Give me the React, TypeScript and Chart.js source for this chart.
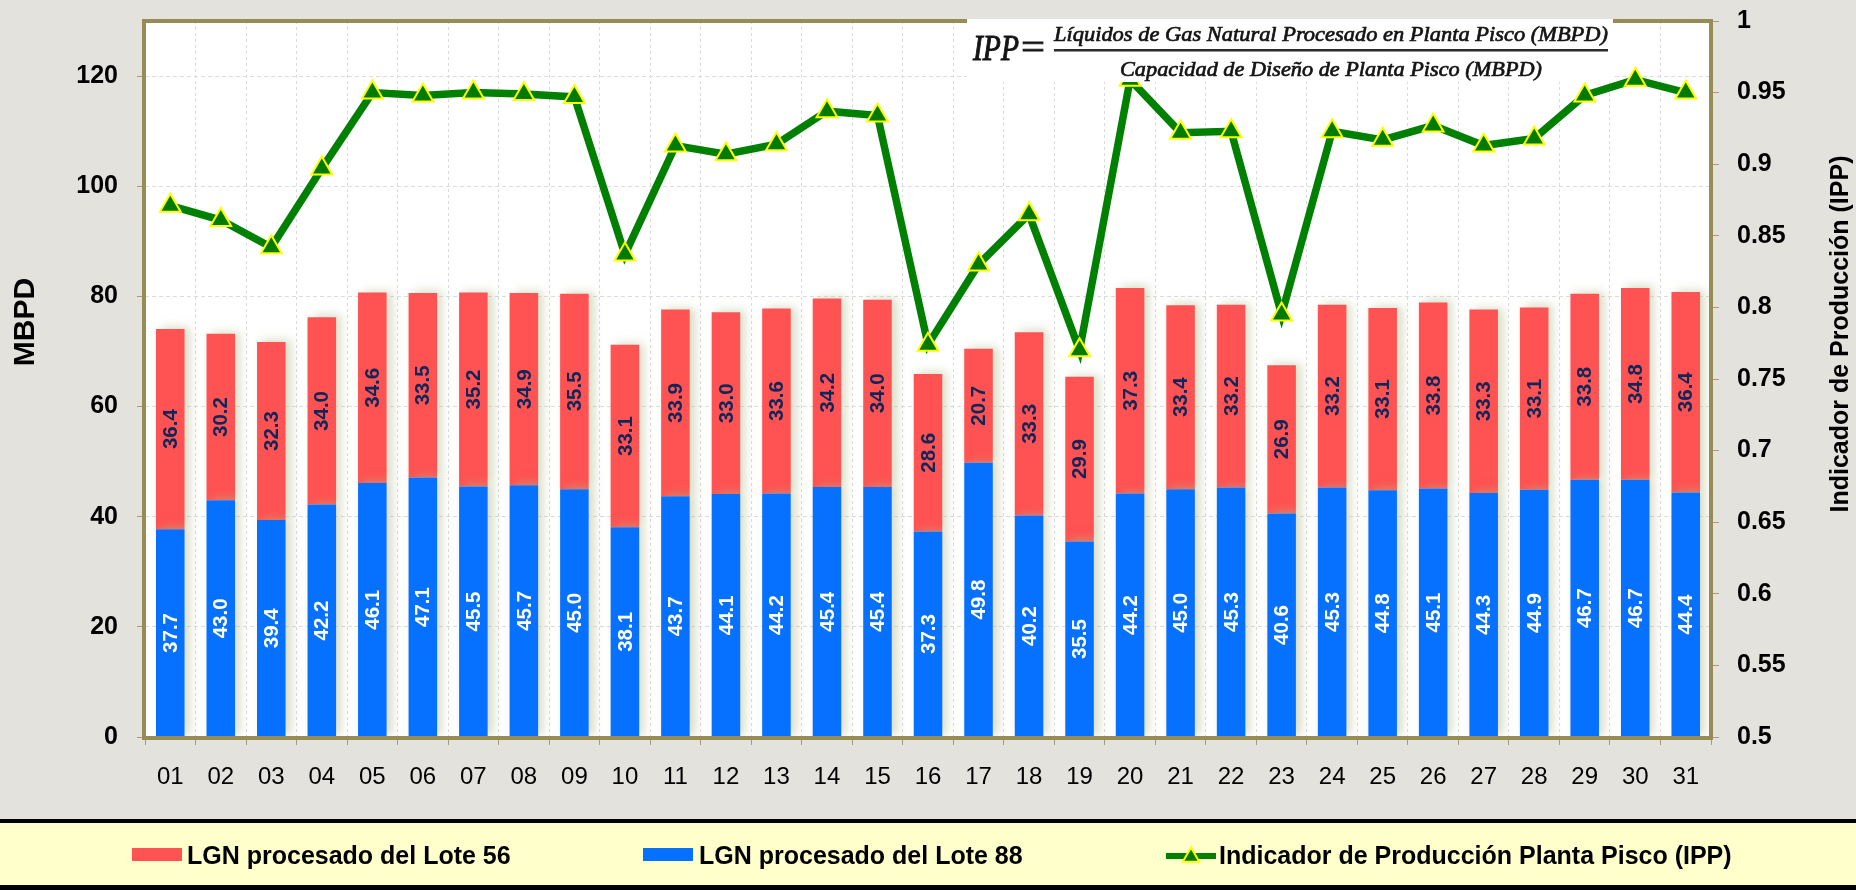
import React, { useEffect, useRef } from 'react';
import { Chart, registerables } from 'chart.js';

Chart.register(...registerables);

const days = ['01', '02', '03', '04', '05', '06', '07', '08', '09', '10', '11', '12', '13', '14', '15', '16', '17', '18', '19', '20', '21', '22', '23', '24', '25', '26', '27', '28', '29', '30', '31'];
const lote56 = [36.4, 30.2, 32.3, 34.0, 34.6, 33.5, 35.2, 34.9, 35.5, 33.1, 33.9, 33.0, 33.6, 34.2, 34.0, 28.6, 20.7, 33.3, 29.9, 37.3, 33.4, 33.2, 26.9, 33.2, 33.1, 33.8, 33.3, 33.1, 33.8, 34.8, 36.4];
const lote88 = [37.7, 43.0, 39.4, 42.2, 46.1, 47.1, 45.5, 45.7, 45.0, 38.1, 43.7, 44.1, 44.2, 45.4, 45.4, 37.3, 49.8, 40.2, 35.5, 44.2, 45.0, 45.3, 40.6, 45.3, 44.8, 45.1, 44.3, 44.9, 46.7, 46.7, 44.4];
const ipp = [0.871, 0.861, 0.842, 0.897, 0.950, 0.948, 0.950, 0.949, 0.947, 0.837, 0.913, 0.907, 0.914, 0.937, 0.934, 0.774, 0.830, 0.865, 0.770, 0.959, 0.922, 0.923, 0.795, 0.923, 0.917, 0.927, 0.913, 0.918, 0.948, 0.959, 0.950];

const seriesNames = ['LGN procesado del Lote 56', 'LGN procesado del Lote 88', 'Indicador de Producción Planta Pisco (IPP)'];
const leftTitle = 'MBPD';
const rightTitle = 'Indicador de Producción (IPP)';
const formulaLeft = 'IPP';
const formulaNum = 'Líquidos de Gas Natural Procesado en Planta Pisco (MBPD)';
const formulaDen = 'Capacidad de Diseño de Planta Pisco (MBPD)';

const RED = '#FF5252';
const BLUE = '#0670FF';
const GREEN = '#008000';
const SANS = '"Liberation Sans", Arial, sans-serif';
const SERIF = '"Liberation Serif", "Times New Roman", serif';

function drawFit(ctx: CanvasRenderingContext2D, text: string, x: number, y: number, width: number, font: string, bold: number) {
  ctx.save();
  ctx.font = font;
  const w = ctx.measureText(text).width;
  ctx.translate(x, y);
  ctx.scale(width / w, 1);
  ctx.textAlign = 'left';
  ctx.textBaseline = 'alphabetic';
  ctx.fillText(text, 0, 0);
  if (bold > 0) {
    ctx.lineWidth = bold;
    ctx.strokeStyle = ctx.fillStyle as string;
    ctx.strokeText(text, 0, 0);
  }
  ctx.restore();
}

function triangle(ctx: CanvasRenderingContext2D, cx: number, cy: number, r: number) {
  ctx.beginPath();
  ctx.moveTo(cx, cy - r);
  ctx.lineTo(cx + r * 0.866, cy + r / 2);
  ctx.lineTo(cx - r * 0.866, cy + r / 2);
  ctx.closePath();
  ctx.fillStyle = '#007A00';
  ctx.fill();
  ctx.strokeStyle = '#FFFF00';
  ctx.lineWidth = 2;
  ctx.stroke();
}

const decorPlugin = {
  id: 'decor',
  beforeDraw(chart: any) {
    const { ctx, chartArea: a } = chart;
    ctx.save();
    ctx.fillStyle = '#E3E2DD';
    ctx.fillRect(0, 0, chart.width, chart.height);
    ctx.fillStyle = '#FFFFFF';
    ctx.fillRect(a.left, a.top, a.right - a.left, a.bottom - a.top);
    ctx.restore();
  },
  beforeDatasetDraw(chart: any, args: any) {
    if (args.meta.type !== 'bar') return;
    const ctx = chart.ctx;
    ctx.save();
    ctx.shadowColor = 'rgba(175,185,135,0.5)';
    ctx.shadowOffsetX = 5;
    ctx.shadowOffsetY = -2;
    ctx.shadowBlur = 9;
  },
  afterDatasetDraw(chart: any, args: any) {
    if (args.meta.type !== 'bar') return;
    const ctx = chart.ctx;
    ctx.restore();
    const ds = chart.data.datasets[args.index];
    ctx.save();
    ctx.font = 'bold 20.5px ' + SANS;
    ctx.fillStyle = ds.labelColor;
    ctx.textAlign = 'center';
    ctx.textBaseline = 'middle';
    args.meta.data.forEach((el: any, i: number) => {
      const p = el.getProps(['x', 'y', 'base'], true);
      const cy = (p.y + p.base) / 2;
      ctx.save();
      ctx.translate(p.x, cy);
      ctx.rotate(-Math.PI / 2);
      ctx.fillText(Number(ds.data[i]).toFixed(1), 0, 1);
      ctx.restore();
    });
    ctx.restore();
  },
  afterDraw(chart: any) {
    const { ctx, chartArea: a } = chart;
    ctx.save();
    // plot border
    ctx.strokeStyle = '#978B56';
    ctx.lineWidth = 4;
    ctx.strokeRect(a.left - 1, a.top, a.right - a.left + 1, a.bottom - a.top + 1);

    // axis titles
    ctx.fillStyle = '#000';
    ctx.textAlign = 'center';
    ctx.textBaseline = 'middle';
    ctx.save();
    ctx.translate(26, 322);
    ctx.rotate(-Math.PI / 2);
    ctx.font = 'bold 30px ' + SANS;
    ctx.fillText(leftTitle, 0, 0);
    ctx.restore();
    ctx.save();
    ctx.translate(1841, 334);
    ctx.rotate(-Math.PI / 2);
    ctx.font = 'bold 25px ' + SANS;
    ctx.fillText(rightTitle, 0, 0);
    ctx.restore();

    // legend box
    ctx.fillStyle = '#FFFFCC';
    ctx.fillRect(0, 822, chart.width, 64);
    ctx.fillStyle = '#000';
    ctx.fillRect(0, 819, chart.width, 4);
    ctx.fillRect(0, 885, chart.width, 5);

    ctx.font = 'bold 25px ' + SANS;
    ctx.textAlign = 'left';
    ctx.textBaseline = 'middle';
    ctx.fillStyle = RED;
    ctx.fillRect(132, 848, 50, 13);
    ctx.fillStyle = '#000';
    ctx.fillText(seriesNames[0], 187, 857);
    ctx.fillStyle = BLUE;
    ctx.fillRect(643, 848, 50, 13);
    ctx.fillStyle = '#000';
    ctx.fillText(seriesNames[1], 699, 857);
    ctx.strokeStyle = GREEN;
    ctx.lineWidth = 6;
    ctx.beginPath();
    ctx.moveTo(1166, 856);
    ctx.lineTo(1216, 856);
    ctx.stroke();
    triangle(ctx, 1191, 857, 9.5);
    ctx.fillStyle = '#000';
    ctx.fillText(seriesNames[2], 1219, 857);

    // formula box
    ctx.fillStyle = '#FFFFFF';
    ctx.fillRect(967, 19, 646, 63);
    ctx.fillStyle = '#141414';
    drawFit(ctx, formulaLeft, 973, 60, 46, 'italic 36px ' + SERIF, 1);
    drawFit(ctx, '=', 1021, 59, 24, '36px ' + SERIF, 0.8);
    drawFit(ctx, formulaNum, 1054, 41, 554, 'italic 22px ' + SERIF, 0.7);
    ctx.fillStyle = '#2A2A2A';
    ctx.fillRect(1054, 49, 554, 2.5);
    ctx.fillStyle = '#141414';
    drawFit(ctx, formulaDen, 1120, 76, 422, 'italic 22px ' + SERIF, 0.7);
    ctx.restore();
  },
};

function noPad(s: any) {
  s.paddingTop = 0;
  s.paddingBottom = 0;
  s.paddingLeft = 0;
  s.paddingRight = 0;
}

export default function App() {
  const ref = useRef<HTMLCanvasElement | null>(null);
  useEffect(() => {
    if (!ref.current) return;
    const chart = new Chart(ref.current, {
      type: 'bar',
      data: {
        labels: days,
        datasets: [
          {
            type: 'line',
            label: seriesNames[2],
            data: ipp,
            yAxisID: 'y1',
            borderColor: GREEN,
            borderWidth: 7.5,
            pointStyle: 'triangle',
            pointRadius: 12,
            pointBackgroundColor: '#007A00',
            pointBorderColor: '#FFFF00',
            pointBorderWidth: 2,
            tension: 0,
            order: 0,
          } as any,
          {
            type: 'bar',
            label: seriesNames[1],
            data: lote88,
            backgroundColor: BLUE,
            yAxisID: 'y',
            stack: 's',
            order: 1,
            categoryPercentage: 1,
            barPercentage: 0.565,
            labelColor: '#FFFFFF',
          } as any,
          {
            type: 'bar',
            label: seriesNames[0],
            data: lote56,
            backgroundColor: RED,
            yAxisID: 'y',
            stack: 's',
            order: 1,
            categoryPercentage: 1,
            barPercentage: 0.565,
            labelColor: '#0E2659',
          } as any,
        ],
      },
      options: {
        responsive: false,
        animation: false,
        devicePixelRatio: 1,
        layout: { padding: { top: 21, left: 0, right: 0, bottom: 0 } },
        plugins: { legend: { display: false }, tooltip: { enabled: false } },
        scales: {
          x: {
            stacked: true,
            offset: true,
            grid: { color: '#DADADA', offset: true, tickLength: 8, tickColor: '#A39C82', tickBorderDash: [] },
            border: { display: false, dash: [3, 3] },
            ticks: { color: '#000', font: { family: SANS, size: 24 }, padding: 18, maxRotation: 0, autoSkip: false },
            afterFit: (s: any) => { s.height = 153; noPad(s); },
          },
          y: {
            stacked: true,
            position: 'left',
            min: 0,
            max: 130,
            grid: { color: '#DCDCDC', tickLength: 8, tickColor: '#A39C82', tickBorderDash: [] },
            border: { display: false, dash: [4, 3] },
            ticks: { stepSize: 20, includeBounds: false, color: '#000', font: { family: SANS, size: 25, weight: 'bold' }, padding: 19 },
            afterFit: (s: any) => { s.width = 145; noPad(s); },
          },
          y1: {
            position: 'right',
            min: 0.5,
            max: 1,
            grid: { drawOnChartArea: false, tickLength: 8, tickColor: '#A39C82' },
            border: { display: false },
            ticks: {
              stepSize: 0.05,
              color: '#000',
              font: { family: SANS, size: 25, weight: 'bold' },
              padding: 18,
              callback: (v: any) => String(parseFloat(Number(v).toFixed(2))),
            },
            afterFit: (s: any) => { s.width = 145; noPad(s); },
          },
        },
      } as any,
      plugins: [decorPlugin],
    });
    return () => chart.destroy();
  }, []);
  return (
    <div style={{ position: 'fixed', left: 0, top: 0, width: 1856, height: 890 }}>
      <canvas ref={ref} width={1856} height={890} style={{ display: 'block', width: 1856, height: 890 }} />
    </div>
  );
}
